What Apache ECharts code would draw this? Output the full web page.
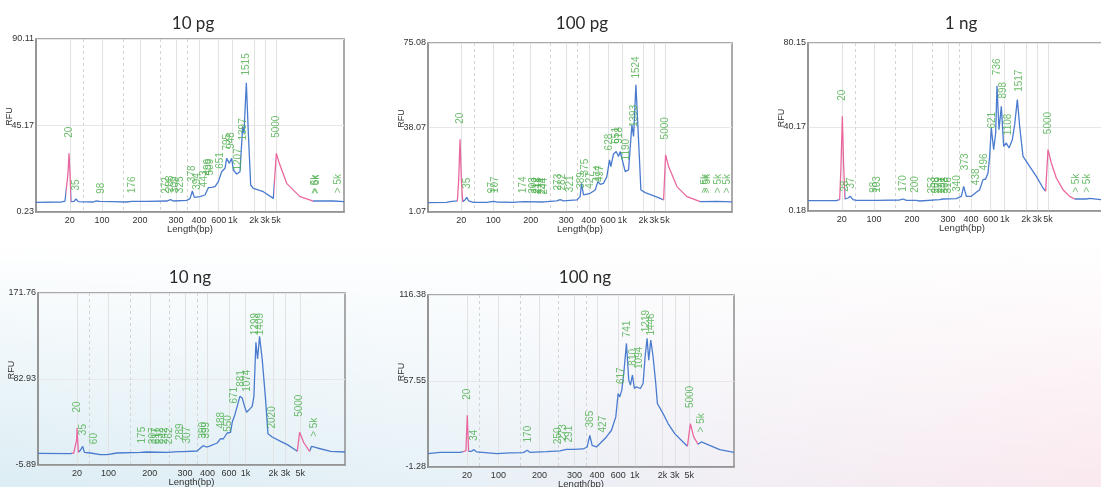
<!DOCTYPE html>
<html><head><meta charset="utf-8">
<script src="https://cdn.jsdelivr.net/npm/echarts@6/dist/echarts.min.js"></script>
<style>
html,body{margin:0;padding:0;}
body{width:1101px;height:487px;overflow:hidden;background:
 linear-gradient(to bottom, rgba(255,255,255,1) 0%, rgba(255,255,255,1) 50%, rgba(255,255,255,0) 100%),
 linear-gradient(to right, #dcedf4 0%, #e6f1f7 40%, #f3eef4 70%, #fae9ef 100%);}
#chart{width:1101px;height:487px;}
</style></head><body><div id="chart"></div>
<script>
// ---------- axis / ladder definitions (migration position in % of run) ----------
const tickLabels = ['20','100','200','300','400','600','1k','2k','3k','5k'];
const topTickPos = [10.97, 21.43, 33.77, 45.45, 52.92, 59.3, 63.86, 70.78, 74.35, 77.92];
const bottomTickPos = [12.72, 23.0, 36.44, 47.9, 55.24, 62.2, 67.6, 76.6, 80.65, 85.4];
const topMinorPos = [15.2, 28.2, 40.3, 49.0];
const bottomMinorPos = [16.8, 30.1, 42.6, 51.8];

const titles = ['10 pg','100 pg','1 ng','10 ng','100 ng'];
const yMin = [0.23, 1.07, 0.18, -5.89, -1.28];
const yMax = [90.11, 75.08, 80.15, 171.76, 116.38];
const yMidLabel = ['45.17','38.07','40.17','82.93','57.55'];

// ---------- traces: [migration %, RFU] ----------
const trace10pg = [[0,5.25],[8.33,5.43],[9.42,5.94],[9.96,6.46],[10.39,20.32],[10.71,30.71],[11.04,20.32],[11.36,5.6],[12.34,5.77],[12.99,6.98],[13.74,5.6],[18.61,5.43],[19.37,5.94],[19.91,5.43],[20.78,5.77],[25.11,5.6],[29.44,5.43],[31.06,5.77],[35.93,5.77],[42.42,5.94],[43.72,6.64],[44.59,5.94],[48.92,6.29],[50.0,7.16],[50.76,11.14],[51.41,7.85],[53.25,8.2],[54.87,9.06],[55.95,12.87],[57.03,13.05],[58.12,13.39],[59.2,15.99],[60.28,21.18],[61.36,22.92],[61.9,28.11],[62.77,25.51],[63.53,28.11],[64.07,22.05],[65.15,19.97],[66.23,21.18],[66.77,21.18],[67.1,44.56],[67.53,41.1],[68.29,67.42],[68.94,41.1],[69.7,14.26],[70.56,12.53],[73.81,10.79],[77.06,7.33],[77.49,7.68],[78.03,30.71],[79.0,25.51],[81.39,15.12],[85.71,8.2],[90.04,5.94],[96.54,5.94],[100,5.6]];
const trace100pg = [[0,5.17],[6.15,5.31],[7.24,5.6],[9.66,5.9],[10.1,15.11],[10.54,32.95],[10.98,15.11],[11.42,5.6],[12.18,6.34],[12.73,7.5],[13.39,5.9],[14.93,5.31],[19.32,5.31],[21.51,5.75],[22.61,5.46],[28.1,5.31],[31.39,5.6],[37.98,5.46],[42.37,5.9],[43.47,6.48],[44.57,5.9],[48.96,6.34],[50.05,7.8],[50.49,13.65],[51.15,8.53],[53.35,9.26],[55.0,10.72],[55.87,14.38],[56.64,13.21],[57.74,13.65],[58.84,16.57],[59.71,23.89],[60.15,20.96],[61.03,26.52],[61.91,27.54],[62.68,25.35],[63.23,27.54],[63.78,24.62],[64.87,18.77],[65.97,19.5],[66.52,18.77],[67.07,39.24],[67.62,34.12],[68.39,56.79],[69.26,32.66],[70.03,10.72],[71.46,9.55],[76.4,7.07],[77.5,6.34],[78.16,26.08],[79.14,20.96],[81.89,12.19],[85.18,7.8],[89.57,5.6],[95.06,5.75],[100,5.46]];
const trace1ng = [[0,5.1],[9.2,5.1],[10.28,5.57],[10.71,21.44],[11.15,45.24],[11.58,21.44],[12.01,5.89],[12.99,6.37],[13.74,7.16],[14.61,5.57],[15.69,5.26],[21.1,5.26],[21.65,5.73],[22.4,5.26],[29.76,5.42],[30.84,5.89],[31.93,5.26],[35.17,5.26],[36.26,4.94],[42.75,5.57],[43.83,5.89],[48.16,6.05],[49.78,7.16],[50.54,11.92],[51.41,7.16],[53.03,7.16],[54.65,9.07],[55.74,10.33],[56.82,15.1],[57.68,15.41],[58.44,18.27],[58.98,26.2],[59.52,39.69],[60.28,29.38],[60.93,37.31],[61.36,59.84],[62.01,38.9],[62.77,50.0],[63.53,30.96],[64.39,32.55],[65.26,30.17],[66.34,34.14],[67.1,41.28],[67.97,53.18],[68.72,40.48],[69.81,26.2],[71.97,21.44],[74.13,16.68],[76.3,11.13],[77.16,9.54],[77.92,29.38],[79.0,23.03],[80.63,15.89],[82.79,10.33],[84.96,7.16],[86.58,5.89],[90.37,5.89],[91.45,6.2],[95.02,5.57],[100,5.57]];
const trace10ng = [[0,6.16],[10.54,5.82],[11.63,6.5],[12.28,6.5],[12.61,20.27],[12.72,32.33],[12.93,20.27],[13.15,7.19],[13.8,9.26],[14.57,13.39],[15.11,7.19],[17.07,6.5],[20.33,4.78],[22.5,4.78],[25.76,6.5],[33.37,7.19],[35.54,7.54],[42.07,7.19],[45.87,7.88],[46.41,9.26],[47.5,7.88],[51.85,8.57],[52.93,11.67],[53.8,14.08],[54.89,12.7],[55.65,13.39],[58.37,16.83],[59.46,21.31],[60.33,20.96],[61.63,27.16],[62.72,27.85],[63.26,38.18],[64.13,46.1],[64.89,54.7],[65.76,65.03],[66.52,63.31],[67.28,54.7],[67.93,48.51],[68.59,50.57],[69.02,49.2],[69.78,54.7],[70.33,65.03],[70.98,120.81],[71.52,103.59],[72.17,127.0],[73.04,102.9],[74.13,61.59],[74.89,26.47],[76.3,23.03],[79.02,18.55],[81.2,15.11],[83.37,10.64],[84.46,8.23],[85.22,27.85],[86.63,16.83],[88.48,8.23],[89.13,13.39],[90.98,11.67],[95.33,8.23],[100,7.54]];
const trace100ng = [[0,7.86],[3.92,8.77],[10.45,8.77],[11.53,9.23],[12.4,9.91],[12.84,34.13],[13.28,9.46],[14.25,9.46],[15.02,10.6],[15.89,9.0],[22.42,7.86],[26.77,8.32],[31.12,8.54],[32.43,10.14],[33.3,8.77],[38.74,9.23],[43.09,9.69],[45.27,10.83],[47.44,10.83],[50.71,11.06],[52.01,12.43],[52.88,20.42],[53.65,13.57],[55.06,12.43],[56.69,15.86],[58.32,19.28],[59.96,23.85],[61.37,32.99],[62.13,48.98],[62.68,46.7],[63.33,51.27],[63.98,62.69],[64.85,83.25],[65.61,58.12],[66.16,54.7],[66.81,61.55],[67.46,52.41],[68.12,53.55],[68.77,54.7],[69.42,52.41],[70.29,55.84],[70.95,74.12],[71.6,86.68],[72.14,71.83],[72.8,85.54],[73.56,74.12],[74.43,55.84],[74.97,42.13],[76.82,35.28],[78.45,28.42],[80.63,21.57],[83.35,15.86],[84.77,12.89],[85.75,28.42],[86.83,19.28],[88.25,14.26],[89.34,15.86],[92.06,13.57],[95.32,10.6],[100,8.77]];

// ---------- marker (ladder) regions drawn in pink: [from %, to %] ----------
const pink10pg = [[9.8,11.5],[77.4,90.0]];
const pink100pg = [[9.5,11.5],[77.4,89.6]];
const pink1ng = [[10.1,12.0],[77.1,86.6]];
const pink10ng = [[11.0,13.2],[84.4,88.5]];
const pink100ng = [[11.4,13.4],[84.6,88.3]];

// ---------- called peaks: [migration %, RFU, size label] ----------
const peaks10pg = [[13.1,8.54,'35'],[21.1,6.81,'98'],[31.4,7.16,'176'],[42.4,6.81,'272'],[43.7,7.68,'288'],[45.3,7.16,'309'],[46.8,7.16,'325'],[50.76,12.87,'378'],[52.2,8.89,'394'],[54.5,10.27,'443'],[55.95,16.34,'499'],[56.5,16.34,'509'],[59.7,19.8,'651'],[62.1,29.3,'795'],[63.5,30.2,'948'],[65.8,18.93,'1207'],[67.2,34.52,'1397'],[68.29,68.29,'1515'],[90.6,6.81,'> 5k'],[91.0,6.81,'> 6k'],[98.2,7.16,'> 5k']];
const ladder10pg = [[10.71,30.71,'20'],[78.03,30.71,'5000']];
const peaks100pg = [[12.95,8.82,'35'],[21.08,6.92,'97'],[22.17,6.92,'107'],[31.17,6.92,'174'],[34.47,6.63,'203'],[35.46,6.63,'212'],[36.33,6.63,'218'],[37.43,6.34,'234'],[38.31,6.34,'244'],[42.92,8.09,'273'],[44.02,8.09,'282'],[46.76,7.36,'321'],[50.27,8.82,'389'],[51.7,14.67,'375'],[53.35,8.82,'427'],[56.09,11.75,'474'],[56.64,11.75,'497'],[59.71,25.64,'628'],[61.8,28.57,'651'],[63.01,28.57,'918'],[65.2,21.25,'1190'],[67.95,35.88,'1393'],[68.5,57.09,'1524'],[91.22,6.92,'> 5k'],[91.77,6.92,'> 5k'],[95.61,6.92,'> 5k'],[98.57,6.92,'> 5k']];
const ladder100pg = [[10.54,32.95,'20'],[78.16,26.08,'5000']];
const peaks1ng = [[12.0,6.69,'28'],[14.07,8.27,'37'],[21.65,6.21,'98'],[22.4,6.21,'103'],[30.84,6.69,'170'],[34.85,6.21,'200'],[40.37,5.89,'253'],[41.67,5.89,'268'],[42.53,5.89,'279'],[43.61,5.89,'291'],[44.59,5.89,'308'],[45.45,5.89,'316'],[48.38,6.69,'340'],[51.08,17.0,'373'],[54.65,9.86,'438'],[57.36,17.0,'496'],[59.74,36.83,'621'],[61.36,62.22,'736'],[63.53,51.11,'898'],[64.94,33.66,'1108'],[68.51,54.29,'1517'],[87.12,6.21,'> 5k'],[90.58,6.21,'> 5k']];
const ladder1ng = [[11.15,45.24,'20'],[78.1,29.38,'5000']];
const peaks10ng = [[14.89,19.24,'35'],[18.37,9.95,'60'],[33.91,10.64,'175'],[37.5,9.95,'207'],[38.59,9.95,'217'],[39.67,9.95,'232'],[41.2,9.95,'242'],[42.6,9.95,'262'],[46.2,14.08,'289'],[48.59,10.64,'307'],[53.8,15.8,'390'],[54.67,15.8,'399'],[59.67,26.13,'488'],[61.85,22.69,'550'],[63.8,51.95,'671'],[66.2,69.16,'881'],[68.15,64.0,'1074'],[70.87,122.5,'1299'],[72.28,122.5,'1409'],[76.3,26.13,'2020'],[89.89,17.52,'> 5k']];
const ladder10ng = [[12.72,32.33,'20'],[85.22,27.85,'5000']];
const peaks100ng = [[15.23,12.88,'34'],[32.75,11.74,'170'],[42.55,10.6,'250'],[44.18,12.88,'273'],[46.14,11.74,'291'],[53.1,22.02,'365'],[57.24,18.6,'427'],[63.22,51.72,'617'],[65.07,83.71,'741'],[67.03,64.29,'810'],[68.99,62.0,'1094'],[71.38,87.14,'1219'],[73.12,84.85,'1446'],[89.34,18.6,'> 5k']];
const ladder100ng = [[12.84,34.13,'20'],[85.75,28.42,'5000']];

// ---------- assembly ----------
const panels = [
  {trace: trace10pg, peaks: peaks10pg, ladder: ladder10pg, pink: pink10pg, ticks: topTickPos, minor: topMinorPos},
  {trace: trace100pg, peaks: peaks100pg, ladder: ladder100pg, pink: pink100pg, ticks: topTickPos, minor: topMinorPos},
  {trace: trace1ng, peaks: peaks1ng, ladder: ladder1ng, pink: pink1ng, ticks: topTickPos, minor: topMinorPos},
  {trace: trace10ng, peaks: peaks10ng, ladder: ladder10ng, pink: pink10ng, ticks: bottomTickPos, minor: bottomMinorPos},
  {trace: trace100ng, peaks: peaks100ng, ladder: ladder100ng, pink: pink100ng, ticks: bottomTickPos, minor: bottomMinorPos}
];
const layout = [
  {left:36, top:39, width:308, height:173, tx:188, ty:19},
  {left:428, top:43, width:304, height:169, tx:577, ty:19},
  {left:808, top:43, width:308, height:168, tx:956, ty:19},
  {left:38, top:293, width:307, height:172, tx:185, ty:273},
  {left:428, top:295, width:306, height:172, tx:580, ty:273}
];
const BLUE = '#4a7bcf', PINK = '#e9679f', GREEN = '#48ad48', AXIS = '#8e8e8e', TXT = '#333333';
const FONT = 'Liberation Sans, Arial, sans-serif';

const option = {animation: false, title: [], grid: [], xAxis: [], yAxis: [], series: [], visualMap: []};
const minorAxes = [];
panels.forEach((p, i) => {
  const L = layout[i];
  option.title.push({text: titles[i], left: L.tx, top: L.ty, textAlign: 'center', textVerticalAlign: 'middle',
    textStyle: {fontFamily: 'Lato, sans-serif', fontSize: 17, fontWeight: 'normal', color: '#2b2b2b'}});
  option.grid.push({left: L.left, top: L.top, width: L.width, height: L.height, show: true,
    containLabel: false, outerBoundsMode: 'none',
    borderColor: AXIS, borderWidth: 1.5, backgroundColor: 'transparent'});
  const ticks = p.ticks;
  option.xAxis.push({gridIndex: i, type: 'value', min: 0, max: 100,
    name: 'Length(bp)', nameLocation: 'middle', nameGap: 12.5, nameMoveOverlap: false,
    nameTextStyle: {fontSize: 9.5, color: TXT, fontFamily: FONT},
    axisLine: {show: true, onZero: false, lineStyle: {color: AXIS, width: 1.5}},
    axisTick: {show: false, customValues: ticks},
    axisLabel: {customValues: ticks, fontSize: 9, color: TXT, margin: 4, fontFamily: FONT,
      formatter: v => { for (let k = 0; k < ticks.length; k++) if (Math.abs(ticks[k] - v) < 1e-6) return tickLabels[k]; return ''; }},
    splitLine: {show: true, lineStyle: {color: '#e2e2e2', width: 1}}});
  minorAxes.push({gridIndex: i, type: 'value', min: 0, max: 100, position: 'top',
    axisLine: {show: false}, axisLabel: {show: false},
    axisTick: {show: false, customValues: p.minor},
    splitLine: {show: true, lineStyle: {color: '#d4d4d4', width: 1, type: [3, 3]}}});
  const yv = [yMin[i], (yMin[i] + yMax[i]) / 2, yMax[i]];
  const yl = [yMin[i].toFixed(2), yMidLabel[i], yMax[i].toFixed(2)];
  option.yAxis.push({gridIndex: i, type: 'value', min: yMin[i], max: yMax[i],
    name: 'RFU', nameLocation: 'middle', nameRotate: 90, nameGap: 22, nameMoveOverlap: false,
    nameTextStyle: {fontSize: 9, color: TXT, fontFamily: FONT, padding: [0, 0, 0, 18]},
    axisLine: {show: true, onZero: false, lineStyle: {color: AXIS, width: 1.5}},
    axisTick: {show: false, customValues: yv},
    axisLabel: {customValues: yv, fontSize: 9, color: TXT, margin: 2, fontFamily: FONT,
      formatter: v => { let b = 0; for (let k = 1; k < 3; k++) if (Math.abs(yv[k] - v) < Math.abs(yv[b] - v)) b = k; return yl[b]; }},
    splitLine: {show: true, lineStyle: {color: '#e6e6ec', width: 1}}});
  const traceIdx = option.series.length;
  option.series.push({type: 'line', xAxisIndex: i, yAxisIndex: i, data: p.trace,
    showSymbol: false, symbol: 'none', silent: true, z: 3, lineStyle: {width: 1.3}});
  option.visualMap.push({type: 'piecewise', show: false, seriesIndex: traceIdx, dimension: 0,
    pieces: p.pink.map(r => ({gte: r[0], lte: r[1], color: PINK})), outOfRange: {color: BLUE}});
  const ann = p.peaks.map(q => ({value: [q[0], q[1]], name: q[2]}))
    .concat(p.ladder.map(q => ({value: [q[0], q[1]], name: q[2], label: {distance: 15}})));
  option.series.push({type: 'scatter', xAxisIndex: i, yAxisIndex: i, data: ann, symbolSize: 1,
    itemStyle: {color: 'rgba(0,0,0,0)'}, silent: true, z: 4,
    label: {show: true, position: 'top', rotate: 90, align: 'left', verticalAlign: 'middle', distance: 5,
      formatter: '{b}', color: GREEN, fontSize: 10, fontFamily: FONT}});
});
minorAxes.forEach(a => option.xAxis.push(a));
// minor axes are indices 5..9 (no series bound; they only draw dashed guide lines)

const chart = echarts.init(document.getElementById('chart'));
chart.setOption(option);
</script></body></html>
